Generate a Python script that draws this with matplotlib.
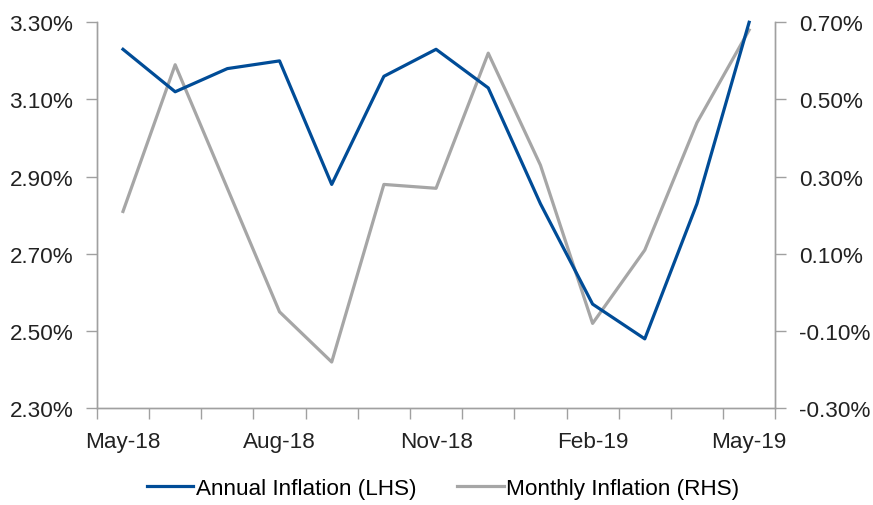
import numpy as np
import matplotlib
matplotlib.use("Agg")
import matplotlib.pyplot as plt
from matplotlib.ticker import FuncFormatter, FixedLocator

plt.rcParams['font.family'] = ['Liberation Sans', 'DejaVu Sans']

months = ["May-18", "Jun-18", "Jul-18", "Aug-18", "Sep-18", "Oct-18", "Nov-18",
          "Dec-18", "Jan-19", "Feb-19", "Mar-19", "Apr-19", "May-19"]
annual = [3.23, 3.12, 3.18, 3.20, 2.88, 3.16, 3.23, 3.13, 2.83, 2.57, 2.48, 2.83, 3.30]
monthly = [0.21, 0.59, 0.27, -0.05, -0.18, 0.28, 0.27, 0.62, 0.33, -0.08, 0.11, 0.44, 0.68]
shown_labels = ["May-18", "Aug-18", "Nov-18", "Feb-19", "May-19"]

blue = "#004C97"
grey = "#A6A6A6"
axcol = "#A0A0A0"
fs = 16.2

fig = plt.figure(figsize=(8.73, 5.06), dpi=100)
ax = fig.add_axes([0.111, 0.191, 0.777, 0.763])
ax2 = ax.twinx()

x = np.arange(len(months))
l1, = ax.plot(x, annual, color=blue, lw=2.3, label="Annual Inflation (LHS)", clip_on=False)
l2, = ax2.plot(x, monthly, color=grey, lw=2.3, label="Monthly Inflation (RHS)")
ax.set_zorder(ax2.get_zorder() + 1)
ax.patch.set_visible(False)

ax.set_xlim(-0.5, len(months) - 0.5)
ax.set_ylim(2.30, 3.30)
ax2.set_ylim(-0.30, 0.70)
ax.set_yticks(np.arange(2.30, 3.31, 0.20))
ax2.set_yticks(np.arange(-0.30, 0.71, 0.20))
ax.yaxis.set_major_formatter(FuncFormatter(lambda v, p: "%.2f%%" % v))
ax2.yaxis.set_major_formatter(FuncFormatter(lambda v, p: "%.2f%%" % (0 if abs(v) < 1e-9 else v)))

pos = [months.index(m) for m in shown_labels]
ax.set_xticks(pos)
ax.set_xticklabels(shown_labels)
ax.xaxis.set_minor_locator(FixedLocator(np.arange(-0.5, len(months), 1.0)))
ax.tick_params(axis='x', which='major', length=0, pad=16, labelsize=fs, colors='#222222')
ax.tick_params(axis='x', which='minor', length=8, width=1, color=axcol, direction='out')
ax.tick_params(axis='y', length=8, width=1, color=axcol, pad=9, labelsize=fs, labelcolor='#222222')
ax2.tick_params(axis='y', length=8, width=1, color=axcol, pad=9, labelsize=fs, labelcolor='#222222')

for a in (ax, ax2):
    a.spines['top'].set_visible(False)
    for s in ('left', 'right', 'bottom'):
        a.spines[s].set_color(axcol)
        a.spines[s].set_linewidth(1)

fig.legend(handles=[l1, l2], loc='center', bbox_to_anchor=(0.508, 0.032), ncol=2,
           frameon=False, fontsize=fs, handlelength=2.05, handletextpad=0.13,
           columnspacing=1.8)

fig.savefig("out.png", dpi=100)
